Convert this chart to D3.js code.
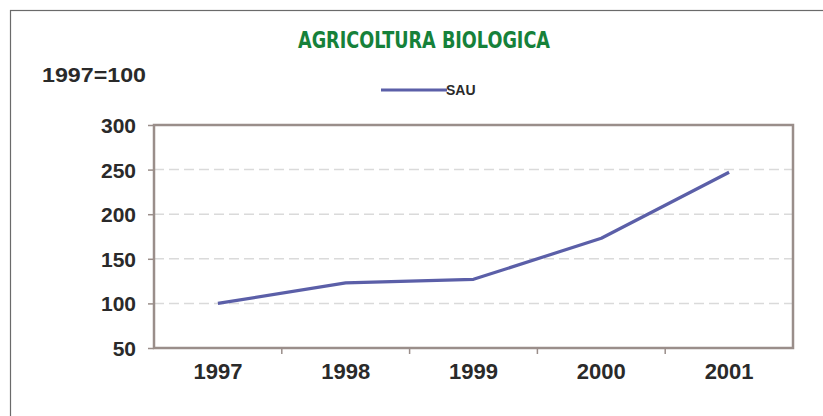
<!DOCTYPE html>
<html>
    <head>
        <meta charset="utf-8">
        <script src="https://cdn.jsdelivr.net/npm/d3@7"></script>
        <style>
            body{
                margin: 0;
                background: #fff;
                font-family: "Liberation Sans", Arial, sans-serif;
            }
            .tick-label{
                font-weight: 700;
                fill: #2a2a2a;
            }
        </style>
    </head>
    <body>
        <svg id="chart" width="823" height="416"></svg>
    </body>
    <script>
        // data (index 1997=100)
        const years = ["1997", "1998", "1999", "2000", "2001"]
        const sau = [100, 123, 127, 173, 247]
        const yTicks = [50, 100, 150, 200, 250, 300]
        const gridTicks = [100, 150, 200, 250]

        const svg = d3.select("#chart")
        const plot = {left: 154, right: 793, top: 125, bottom: 348}

        // outer frame
        svg.append("rect")
            .attr("x", 10.5).attr("y", 10.5)
            .attr("width", 830).attr("height", 420)
            .attr("fill", "none")
            .attr("stroke", "#6a6a6a")
            .attr("stroke-width", 1.2)

        svg.append("text")
            .attr("x", 424).attr("y", 47.5)
            .attr("text-anchor", "middle")
            .attr("textLength", 252)
            .attr("lengthAdjust", "spacingAndGlyphs")
            .style("font-family", "'DejaVu Sans Condensed', 'DejaVu Sans', sans-serif")
            .style("font-weight", 700)
            .style("font-size", "23px")
            .style("fill", "#16813a")
            .text("AGRICOLTURA BIOLOGICA")

        svg.append("text")
            .attr("x", 42).attr("y", 82)
            .attr("textLength", 104)
            .attr("lengthAdjust", "spacingAndGlyphs")
            .attr("class", "tick-label")
            .style("font-size", "20px")
            .text("1997=100")

        // legend
        svg.append("line")
            .attr("x1", 381).attr("x2", 447)
            .attr("y1", 90).attr("y2", 90)
            .attr("stroke", "#5b5fa8")
            .attr("stroke-width", 3)
        svg.append("text")
            .attr("x", 446).attr("y", 95)
            .attr("class", "tick-label")
            .style("font-size", "14px")
            .text("SAU")

        const x = d3.scaleBand()
            .domain(years)
            .range([plot.left, plot.right])

        const y = d3.scaleLinear()
            .domain([50, 300])
            .range([plot.bottom, plot.top])

        // dashed gridlines
        svg.append("g")
            .selectAll("line")
            .data(gridTicks)
            .join("line")
            .attr("x1", plot.left).attr("x2", plot.right)
            .attr("y1", d => y(d)).attr("y2", d => y(d))
            .attr("stroke", "#dadada")
            .attr("stroke-width", 1.5)
            .attr("stroke-dasharray", "10,5")

        // plot box
        svg.append("rect")
            .attr("x", plot.left).attr("y", plot.top)
            .attr("width", plot.right - plot.left)
            .attr("height", plot.bottom - plot.top)
            .attr("fill", "none")
            .attr("stroke", "#9a8e8a")
            .attr("stroke-width", 2.5)

        const yAxis = svg.append("g")
            .attr("transform", `translate(${plot.left},0)`)
            .call(d3.axisLeft(y).tickValues(yTicks).tickSize(6).tickPadding(12))
        yAxis.select(".domain").remove()
        yAxis.selectAll(".tick line").attr("stroke", "#9a8e8a").attr("stroke-width", 1.5)
        yAxis.selectAll(".tick text")
            .attr("class", "tick-label")
            .style("font-size", "21px")
            .attr("dy", "0.36em")

        const xAxis = svg.append("g")
            .attr("transform", `translate(0,${plot.bottom})`)
            .call(d3.axisBottom(x).tickSize(0).tickPadding(27))
        xAxis.select(".domain").remove()
        xAxis.selectAll(".tick text")
            .attr("class", "tick-label")
            .style("font-size", "22px")
            .attr("dy", "0.2em")

        // small ticks between the categories
        svg.append("g")
            .selectAll("line")
            .data(years.slice(1))
            .join("line")
            .attr("x1", d => x(d)).attr("x2", d => x(d))
            .attr("y1", plot.bottom).attr("y2", plot.bottom + 6)
            .attr("stroke", "#9a8e8a")
            .attr("stroke-width", 1.5)

        const line = d3.line()
            .x((d, i) => x(years[i]) + x.bandwidth() / 2)
            .y(d => y(d))

        svg.append("path")
            .datum(sau)
            .attr("d", line)
            .attr("fill", "none")
            .attr("stroke", "#5b5fa8")
            .attr("stroke-width", 3.2)
            .attr("stroke-linejoin", "round")
    </script>
</html>
